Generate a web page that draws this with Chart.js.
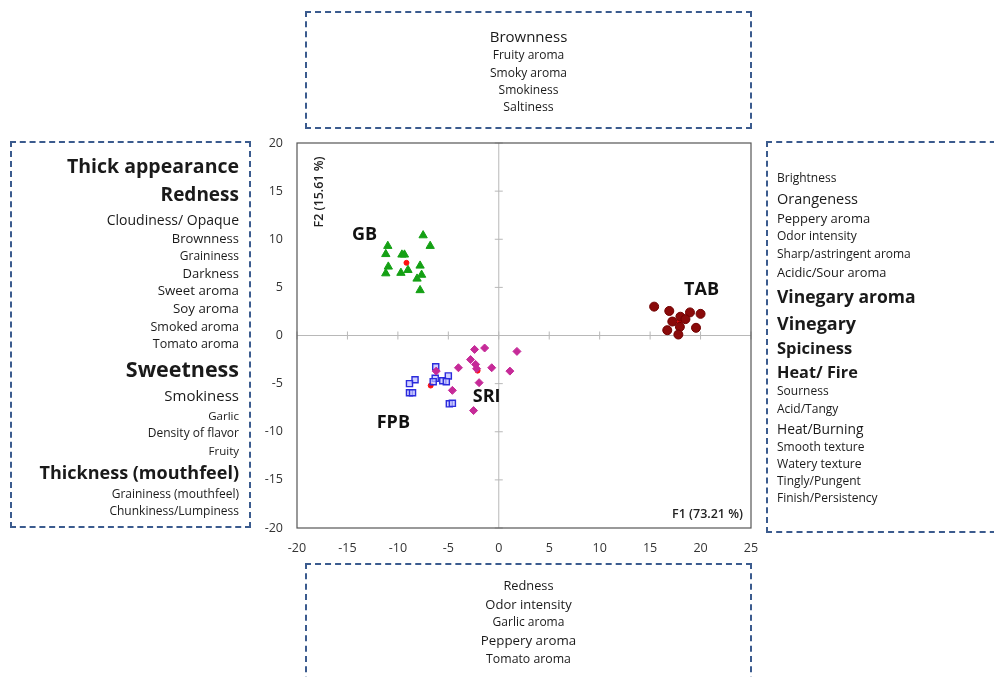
<!DOCTYPE html>
<html>
<head>
<meta charset="utf-8">
<script src="https://cdn.jsdelivr.net/npm/chart.js@4.4.0/dist/chart.umd.min.js"></script>
<style>
  body { margin: 0; background: #fff; font-family: "Open Sans", "Noto Sans", sans-serif; color: #1a1a1a; }
  #wrap { position: relative; width: 994px; height: 677px; overflow: hidden; }
  #chart { position: absolute; left: 0; top: 0; }
  .box { position: absolute; border: 2px dashed #3b5b8e; box-sizing: border-box; }
  .box div { white-space: nowrap; line-height: 1; position: absolute; }
  .b { font-weight: bold; }
</style>
</head>
<body>
<div id="wrap">
  <canvas id="chart" width="994" height="677"></canvas>
  <div class="box" id="topBox" style="left:305px; top:11px; width:447px; height:118px;"></div>
  <div class="box" id="leftBox" style="left:10px; top:141px; width:241px; height:387px;"></div>
  <div class="box" id="rightBox" style="left:766px; top:141px; width:240px; height:392px;"></div>
  <div class="box" id="bottomBox" style="left:305px; top:563px; width:447px; height:130px;"></div>
</div>
<script>
// PCA scores (F1, F2)
const gbF1 = [-7.5, -6.8, -11.0, -11.2, -9.6, -9.35, -10.95, -11.2, -9.7, -9.0, -7.8, -7.65, -8.1, -7.8];
const gbF2 = [10.4, 9.3, 9.3, 8.45, 8.4, 8.4, 7.15, 6.45, 6.5, 6.8, 7.25, 6.3, 5.9, 4.7];
const tabF1 = [15.4, 16.9, 18.0, 18.95, 20.0, 17.2, 18.5, 16.7, 17.95, 19.55, 17.8];
const tabF2 = [3.0, 2.55, 1.95, 2.4, 2.25, 1.45, 1.7, 0.55, 0.9, 0.8, 0.1];
const sriF1 = [-2.4, -1.4, 1.8, -2.8, -2.3, -4.0, -0.7, 1.1, -1.95, -4.6, -2.5, -6.2, -2.2];
const sriF2 = [-1.45, -1.3, -1.65, -2.5, -3.0, -3.35, -3.35, -3.7, -4.9, -5.7, -7.8, -3.7, -3.45];
const fpbF1 = [-6.25, -6.3, -5.55, -5.0, -5.2, -8.3, -8.85, -8.85, -8.55, -4.9, -4.6, -6.5];
const fpbF2 = [-3.25, -4.45, -4.7, -4.2, -4.8, -4.6, -5.0, -5.95, -5.95, -7.1, -7.05, -4.8];
const centroidF1 = [-9.15, 17.9, -2.1, -6.75];
const centroidF2 = [7.55, 1.4, -3.65, -5.2];

const groupNames = ['GB', 'TAB', 'SRI', 'FPB'];
const groupLabelF1 = [-13.3, 20.1, -1.2, -10.45];
const groupLabelF2 = [10.5, 4.7, -6.35, -9.1];

const xTicks = [-20, -15, -10, -5, 0, 5, 10, 15, 20, 25];
const yTicks = [-20, -15, -10, -5, 0, 5, 10, 15, 20];
const xTitle = 'F1 (73.21 %)';
const yTitle = 'F2 (15.61 %)';

// attribute lists around the map: [text, size, bold]
const topAttrs = [['Brownness', 15, 0], ['Fruity aroma', 12, 0], ['Smoky aroma', 12, 0], ['Smokiness', 12, 0], ['Saltiness', 12.3, 0]];
const leftAttrs = [['Thick appearance', 19.5, 1], ['Redness', 19, 1], ['Cloudiness/ Opaque', 14, 0], ['Brownness', 13, 0],
  ['Graininess', 12, 0], ['Darkness', 13, 0], ['Sweet aroma', 13.3, 0], ['Soy aroma', 13.3, 0], ['Smoked aroma', 12.5, 0],
  ['Tomato aroma', 12.5, 0], ['Sweetness', 21.5, 1], ['Smokiness', 15, 0], ['Garlic', 11.5, 0], ['Density of flavor', 12, 0],
  ['Fruity', 11.5, 0], ['Thickness (mouthfeel)', 18, 1], ['Graininess (mouthfeel)', 12, 0], ['Chunkiness/Lumpiness', 12, 0]];
const rightAttrs = [['Brightness', 12, 0], ['Orangeness', 14.5, 0], ['Peppery aroma', 13, 0], ['Odor intensity', 12, 0],
  ['Sharp/astringent aroma', 12, 0], ['Acidic/Sour aroma', 12.8, 0], ['Vinegary aroma', 17.5, 1], ['Vinegary', 18, 1],
  ['Spiciness', 16.5, 1], ['Heat/ Fire', 16.3, 1], ['Sourness', 12, 0], ['Acid/Tangy', 12, 0], ['Heat/Burning', 13.8, 0],
  ['Smooth texture', 12, 0], ['Watery texture', 12.2, 0], ['Tingly/Pungent', 12, 0], ['Finish/Persistency', 12, 0]];
const bottomAttrs = [['Redness', 12.8, 0], ['Odor intensity', 13, 0], ['Garlic aroma', 12, 0], ['Peppery aroma', 13.3, 0], ['Tomato aroma', 12.3, 0]];

// baselines (page y) of each line in the boxes
const topY = [41, 59, 77, 94, 111];
const leftY = [172, 200, 224, 242, 260, 277, 295, 313, 331, 348, 375, 400, 419, 437, 454, 477, 498, 515];
const rightY = [182, 204, 222, 240, 258, 276, 302, 328, 353, 377, 395, 413, 433, 451, 468, 485, 502];
const bottomY = [589, 608, 626, 645, 663];

function fillBox(id, attrs, ys, align, boxLeft, boxTop, anchorX) {
  const box = document.getElementById(id);
  attrs.forEach((a, i) => {
    const d = document.createElement('div');
    d.textContent = a[0];
    d.style.fontSize = a[1] + 'px';
    if (a[2]) d.className = 'b';
    // top of text so baseline lands near ys[i]
    d.style.top = (ys[i] - boxTop - 2 - a[1] * 0.8) + 'px';
    if (align === 'right') { d.style.right = (boxLeft - anchorX) + 'px'; }
    else if (align === 'left') { d.style.left = (anchorX - boxLeft) + 'px'; }
    else { d.style.left = '0'; d.style.width = '100%'; d.style.textAlign = 'center'; }
    box.appendChild(d);
  });
}
fillBox('topBox', topAttrs, topY, 'center', 305, 11, 0);
fillBox('leftBox', leftAttrs, leftY, 'right', 251, 141, 241);
fillBox('rightBox', rightAttrs, rightY, 'left', 768, 141, 777);
fillBox('bottomBox', bottomAttrs, bottomY, 'center', 305, 563, 0);

function pts(xs, ys) { return xs.map((x, i) => ({ x: x, y: ys[i] })); }

const mapDecor = {
  id: 'mapDecor',
  beforeDatasetsDraw(chart) {
    const { ctx, chartArea: a, scales: { x, y } } = chart;
    const x0 = x.getPixelForValue(0), y0 = y.getPixelForValue(0);
    ctx.save();
    // centre axes with small ticks
    ctx.strokeStyle = '#b8b8b8';
    ctx.lineWidth = 1;
    ctx.beginPath();
    ctx.moveTo(x0, a.top); ctx.lineTo(x0, a.bottom);
    ctx.moveTo(a.left, y0); ctx.lineTo(a.right, y0);
    xTicks.forEach(v => {
      const px = x.getPixelForValue(v);
      ctx.moveTo(px, y0 - 4); ctx.lineTo(px, y0 + 4);
    });
    yTicks.forEach(v => {
      const py = y.getPixelForValue(v);
      ctx.moveTo(x0 - 4, py); ctx.lineTo(x0 + 4, py);
    });
    ctx.stroke();
    // frame
    ctx.strokeStyle = '#555';
    ctx.lineWidth = 1.2;
    ctx.strokeRect(a.left, a.top, a.right - a.left, a.bottom - a.top);
    ctx.restore();
  },
  afterDatasetsDraw(chart) {
    const { ctx, chartArea: a, scales: { x, y } } = chart;
    ctx.save();
    ctx.fillStyle = '#111';
    ctx.font = 'bold 18px "Open Sans", sans-serif';
    ctx.textAlign = 'center';
    ctx.textBaseline = 'middle';
    groupNames.forEach((n, i) => {
      ctx.fillText(n, x.getPixelForValue(groupLabelF1[i]), y.getPixelForValue(groupLabelF2[i]));
    });
    ctx.font = '600 12.5px "Open Sans", sans-serif';
    ctx.fillStyle = '#222';
    ctx.textAlign = 'right';
    ctx.textBaseline = 'alphabetic';
    ctx.fillText(xTitle, a.right - 8, a.bottom - 10);
    ctx.translate(a.left + 22, a.top + 49);
    ctx.rotate(-Math.PI / 2);
    ctx.textAlign = 'center';
    ctx.textBaseline = 'middle';
    ctx.fillText(yTitle, 0, 0);
    ctx.restore();
  }
};

new Chart(document.getElementById('chart'), {
  type: 'scatter',
  data: {
    datasets: [
      { label: 'GB', data: pts(gbF1, gbF2), pointStyle: 'triangle', radius: 4.8, backgroundColor: '#14a014', borderColor: '#14a014' },
      { label: 'TAB', data: pts(tabF1, tabF2), pointStyle: 'circle', radius: 4.5, backgroundColor: '#8a0a0a', borderColor: '#700000' },
      { label: 'SRI', data: pts(sriF1, sriF2), pointStyle: 'rectRot', radius: 4, backgroundColor: '#c62a98', borderColor: '#c62a98' },
      { label: 'FPB', data: pts(fpbF1, fpbF2), pointStyle: 'rect', radius: 4.3, backgroundColor: 'rgba(190,190,255,0.7)', borderColor: '#2b2bdc', borderWidth: 1.4 },
      { label: 'centroid', data: pts(centroidF1, centroidF2), pointStyle: 'circle', radius: 2.5, backgroundColor: '#ff1010', borderColor: '#ff1010' }
    ]
  },
  options: {
    responsive: false,
    animation: false,
    layout: { padding: { left: 250, right: 243, top: 143, bottom: 119 } },
    plugins: { legend: { display: false }, tooltip: { enabled: false } },
    scales: {
      x: {
        min: -20, max: 25,
        afterFit: s => { s.height = 30; },
        afterBuildTicks: s => { s.ticks = xTicks.map(v => ({ value: v })); },
        grid: { display: false, drawTicks: false },
        border: { display: false },
        ticks: { color: '#333', font: { family: 'Open Sans', size: 12.5 }, padding: 13 }
      },
      y: {
        min: -20, max: 20,
        afterFit: s => { s.width = 47; },
        afterBuildTicks: s => { s.ticks = yTicks.map(v => ({ value: v })); },
        grid: { display: false, drawTicks: false },
        border: { display: false },
        ticks: { color: '#333', font: { family: 'Open Sans', size: 12.5 }, padding: 14 }
      }
    }
  },
  plugins: [mapDecor]
});
</script>
</body>
</html>
